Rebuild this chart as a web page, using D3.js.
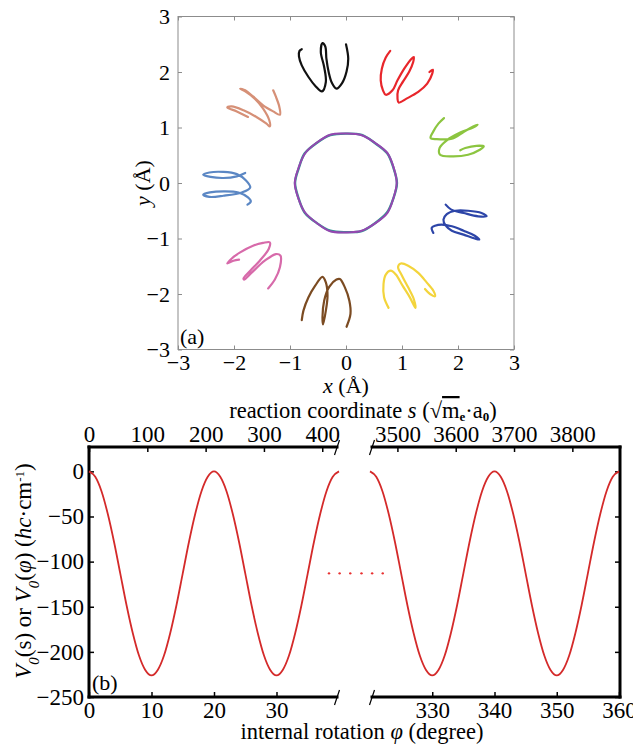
<!DOCTYPE html>
<html>
<head>
<meta charset="utf-8">
<script src="https://cdn.jsdelivr.net/npm/d3@7"></script>
<style>
body { margin: 0; background: #fff; }
text { font-family: "Liberation Serif", "Times New Roman", serif; }
</style>
</head>
<body>
<svg id="chart" width="633" height="745"></svg>
<script>
// ---- panel (a): trajectories, x / y in Angstrom ----
var ticksA = [-3, -2, -1, 0, 1, 2, 3];

var ringAngles = [0, 18, 36, 54, 72, 90, 108, 126, 144, 162, 180, 198, 216, 234, 252, 270, 288, 306, 324, 342];
var ringTeal   = [0.91, 0.89, 0.91, 0.885, 0.91, 0.89, 0.905, 0.89, 0.91, 0.885, 0.91, 0.89, 0.91, 0.89, 0.905, 0.885, 0.91, 0.89, 0.905, 0.89];
var ringPurple = [0.905, 0.895, 0.915, 0.89, 0.905, 0.89, 0.915, 0.895, 0.905, 0.89, 0.915, 0.895, 0.905, 0.89, 0.915, 0.89, 0.905, 0.895, 0.915, 0.89];

var black = [[-0.79,2.41],[-0.83,2.38],[-0.84,2.28],[-0.79,2.12],[-0.67,1.91],[-0.54,1.74],[-0.43,1.65],[-0.36,1.82],[-0.39,2.09],[-0.45,2.36],[-0.42,2.52],[-0.37,2.46],[-0.35,2.24],[-0.31,2.00],[-0.25,1.80],[-0.17,1.70],[-0.07,1.80],[0.01,2.01],[0.04,2.24],[0.00,2.50]];
var red = [[0.79,2.38],[0.71,2.26],[0.64,2.06],[0.62,1.85],[0.66,1.67],[0.71,1.59],[0.83,1.67],[0.92,1.85],[1.04,2.06],[1.17,2.24],[1.21,2.27],[1.20,2.18],[1.13,2.01],[1.02,1.83],[0.93,1.67],[0.92,1.52],[0.94,1.45],[1.08,1.52],[1.29,1.64],[1.45,1.79],[1.54,1.97],[1.55,2.04],[1.49,2.00]];
var green = [[1.75,1.17],[1.65,1.07],[1.56,0.93],[1.51,0.81],[1.62,0.79],[1.89,0.80],[2.10,0.92],[2.27,1.02],[2.35,1.05],[2.27,1.00],[2.04,0.91],[1.80,0.77],[1.67,0.63],[1.68,0.51],[1.89,0.48],[2.18,0.51],[2.39,0.60],[2.46,0.66],[2.33,0.67],[2.13,0.63],[2.04,0.59]];
var darkBlue = [[1.78,-0.39],[1.88,-0.48],[2.10,-0.54],[2.36,-0.60],[2.51,-0.60],[2.42,-0.54],[2.18,-0.50],[1.95,-0.50],[1.80,-0.56],[1.74,-0.66],[1.78,-0.77],[1.89,-0.86],[2.10,-0.93],[2.30,-1.00],[2.38,-1.02],[2.30,-0.95],[2.10,-0.86],[1.89,-0.78],[1.71,-0.75],[1.59,-0.77],[1.53,-0.81],[1.56,-0.90]];
var yellow = [[0.76,-2.25],[0.68,-2.06],[0.67,-1.82],[0.71,-1.65],[0.80,-1.58],[0.89,-1.65],[1.01,-1.85],[1.14,-2.06],[1.24,-2.25],[1.21,-2.09],[1.11,-1.88],[1.00,-1.67],[0.93,-1.51],[0.98,-1.45],[1.11,-1.49],[1.29,-1.62],[1.44,-1.79],[1.56,-1.94],[1.59,-2.04],[1.50,-2.00],[1.41,-1.91]];
var brown = [[-0.79,-2.47],[-0.76,-2.30],[-0.67,-2.06],[-0.55,-1.85],[-0.42,-1.69],[-0.36,-1.79],[-0.33,-2.03],[-0.36,-2.30],[-0.41,-2.55],[-0.42,-2.42],[-0.39,-2.12],[-0.30,-1.87],[-0.17,-1.74],[-0.11,-1.73],[-0.02,-1.88],[0.06,-2.12],[0.08,-2.36],[0.01,-2.59]];
var pink = [[-1.91,-1.38],[-2.01,-1.40],[-2.12,-1.45],[-2.04,-1.36],[-1.89,-1.25],[-1.66,-1.13],[-1.48,-1.08],[-1.36,-1.07],[-1.38,-1.19],[-1.54,-1.40],[-1.71,-1.58],[-1.83,-1.72],[-1.82,-1.74],[-1.68,-1.61],[-1.45,-1.40],[-1.25,-1.28],[-1.17,-1.31],[-1.18,-1.52],[-1.27,-1.74],[-1.39,-1.90]];
var lightBlue = [[-1.80,0.18],[-1.95,0.12],[-2.19,0.09],[-2.42,0.11],[-2.55,0.15],[-2.44,0.19],[-2.19,0.20],[-1.95,0.16],[-1.79,0.05],[-1.71,-0.08],[-1.86,-0.17],[-2.19,-0.23],[-2.44,-0.25],[-2.55,-0.21],[-2.43,-0.17],[-2.19,-0.15],[-1.92,-0.17],[-1.75,-0.26],[-1.70,-0.33],[-1.76,-0.39]];
var salmon = [[-1.75,1.19],[-1.95,1.29],[-2.12,1.36],[-2.04,1.38],[-1.83,1.31],[-1.60,1.19],[-1.42,1.07],[-1.36,1.02],[-1.37,1.13],[-1.48,1.34],[-1.63,1.52],[-1.80,1.65],[-1.89,1.70],[-1.80,1.67],[-1.66,1.56],[-1.48,1.40],[-1.30,1.29],[-1.18,1.23],[-1.19,1.37],[-1.25,1.55],[-1.30,1.67]];

// ---- panel (b): potential along the path ----
var phiLeft  = [0,1,2,3,4,5,6,7,8,9,10,11,12,13,14,15,16,17,18,19,20,21,22,23,24,25,26,27,28,29,30,31,32,33,34,35,36,37,38,39,40];
var vLeft    = [0,-6,-22,-47,-78,-113,-148,-179,-204,-220,-226,-220,-204,-179,-148,-113,-78,-47,-22,-6,0,-6,-22,-47,-78,-113,-148,-179,-204,-220,-226,-220,-204,-179,-148,-113,-78,-47,-22,-6,0];
var phiRight = [320,321,322,323,324,325,326,327,328,329,330,331,332,333,334,335,336,337,338,339,340,341,342,343,344,345,346,347,348,349,350,351,352,353,354,355,356,357,358,359,360];
var vRight   = [0,-6,-22,-47,-78,-113,-148,-179,-204,-220,-226,-220,-204,-179,-148,-113,-78,-47,-22,-6,0,-6,-22,-47,-78,-113,-148,-179,-204,-220,-226,-220,-204,-179,-148,-113,-78,-47,-22,-6,0];
var dotPhi = [38.4, 40.1, 41.8, 43.6, 45.3, 47.0];
var dotV = -113;

var phiTicksLeft = [0, 10, 20, 30];
var phiTicksRight = [330, 340, 350, 360];
var sTicksLeft = [0, 100, 200, 300, 400];
var sTicksRight = [3500, 3600, 3700, 3800];
var vTicks = [0, -50, -100, -150, -200, -250];

var svg = d3.select("#chart");
var SERIF = '"Liberation Serif", "Times New Roman", serif';
var fmt = d3.format("d");

function styleAxis(g, col, sw, fs) {
  g.select(".domain").remove();
  g.attr("font-family", null).attr("font-size", null);
  g.selectAll(".tick line").attr("stroke", col).attr("stroke-width", sw);
  g.selectAll(".tick text").attr("fill", "#000")
    .style("font-family", SERIF).style("font-size", fs + "px");
}

// ================= panel (a) =================
var xA = d3.scaleLinear().domain([-3, 3]).range([178, 514]);
var yA = d3.scaleLinear().domain([-3, 3]).range([349.5, 16.5]);

svg.append("rect")
  .attr("x", xA(-3)).attr("y", yA(3))
  .attr("width", xA(3) - xA(-3)).attr("height", yA(-3) - yA(3))
  .attr("fill", "none").attr("stroke", "#8c8c8c").attr("stroke-width", 1);

svg.append("g").attr("transform", "translate(0," + yA(-3) + ")")
  .call(d3.axisBottom(xA).tickValues(ticksA).tickFormat(fmt).tickSize(-4).tickPadding(5))
  .call(styleAxis, "#8c8c8c", 1, 22);
svg.append("g").attr("transform", "translate(0," + yA(3) + ")")
  .call(d3.axisTop(xA).tickValues(ticksA).tickSize(-4).tickFormat(""))
  .call(styleAxis, "#8c8c8c", 1, 22);
svg.append("g").attr("transform", "translate(" + xA(-3) + ",0)")
  .call(d3.axisLeft(yA).tickValues(ticksA).tickFormat(fmt).tickSize(-4).tickPadding(8))
  .call(styleAxis, "#8c8c8c", 1, 22);
svg.append("g").attr("transform", "translate(" + xA(3) + ",0)")
  .call(d3.axisRight(yA).tickValues(ticksA).tickSize(-4).tickFormat(""))
  .call(styleAxis, "#8c8c8c", 1, 22);

var ringLine = d3.line()
  .x(function (d) { return xA(d[0]); })
  .y(function (d) { return yA(d[1]); })
  .curve(d3.curveCardinalClosed);

function ringPts(radii) {
  return ringAngles.map(function (a, i) {
    var t = a * Math.PI / 180;
    return [radii[i] * Math.cos(t), radii[i] * Math.sin(t)];
  });
}

svg.append("path").attr("d", ringLine(ringPts(ringTeal)))
  .attr("fill", "none").attr("stroke", "#2f9592").attr("stroke-width", 2.4);
svg.append("path").attr("d", ringLine(ringPts(ringPurple)))
  .attr("fill", "none").attr("stroke", "#9547b0").attr("stroke-width", 2);

var trajLine = d3.line()
  .x(function (d) { return xA(d[0]); })
  .y(function (d) { return yA(d[1]); })
  .curve(d3.curveCatmullRom.alpha(0.5));

var trajs = [
  { pts: black, col: "#111111" },
  { pts: red, col: "#e8262b" },
  { pts: green, col: "#8cc540" },
  { pts: darkBlue, col: "#2d45a8" },
  { pts: yellow, col: "#f3d43c" },
  { pts: brown, col: "#7b4b22" },
  { pts: pink, col: "#d76aaa" },
  { pts: lightBlue, col: "#5b87c4" },
  { pts: salmon, col: "#d69077" }
];
svg.append("g").selectAll("path")
  .data(trajs)
  .enter()
  .append("path")
  .attr("d", function (d) { return trajLine(d.pts); })
  .attr("fill", "none")
  .attr("stroke", function (d) { return d.col; })
  .attr("stroke-width", 2.2)
  .attr("stroke-linecap", "round")
  .attr("stroke-linejoin", "round");

svg.append("text").attr("x", xA(-3) + 2).attr("y", 344).style("font-size", "22px").text("(a)");

var xl = svg.append("text").attr("x", xA(0)).attr("y", 393)
  .attr("text-anchor", "middle").style("font-size", "22px");
xl.append("tspan").attr("font-style", "italic").text("x");
xl.append("tspan").text(" (Å)");

var yl = svg.append("text").attr("transform", "translate(150," + yA(0) + ") rotate(-90)")
  .attr("text-anchor", "middle").style("font-size", "22px");
yl.append("tspan").attr("font-style", "italic").text("y");
yl.append("tspan").text(" (Å)");

// ================= panel (b) =================
var xL = d3.scaleLinear().domain([0, 40]).range([89, 339]);
var xR = d3.scaleLinear().domain([320, 360]).range([370, 619]);
var sL = d3.scaleLinear().domain([0, 427]).range([89, 338]);
var sR = d3.scaleLinear().domain([3453, 3880]).range([370, 619]);
var yB = d3.scaleLinear().domain([-250, 27]).range([697, 447]);

var top0 = yB(27), bot0 = yB(-250);
var leftEnd = 337, rightStart = 372, plotL = 89, plotR = 620;
var FB = 23;

svg.append("g").attr("transform", "translate(0," + bot0 + ")")
  .call(d3.axisBottom(xL).tickValues(phiTicksLeft).tickFormat(fmt).tickSize(-5).tickPadding(5))
  .call(styleAxis, "#000", 1.5, FB);
svg.append("g").attr("transform", "translate(0," + bot0 + ")")
  .call(d3.axisBottom(xR).tickValues(phiTicksRight).tickFormat(fmt).tickSize(-5).tickPadding(5))
  .call(styleAxis, "#000", 1.5, FB);
svg.append("g").attr("transform", "translate(0," + top0 + ")")
  .call(d3.axisTop(sL).tickValues(sTicksLeft).tickFormat(fmt).tickSize(-5).tickPadding(5))
  .call(styleAxis, "#000", 1.5, FB);
svg.append("g").attr("transform", "translate(0," + top0 + ")")
  .call(d3.axisTop(sR).tickValues(sTicksRight).tickFormat(fmt).tickSize(-5).tickPadding(5))
  .call(styleAxis, "#000", 1.5, FB);
svg.append("g").attr("transform", "translate(" + plotL + ",0)")
  .call(d3.axisLeft(yB).tickValues(vTicks).tickFormat(fmt).tickSize(-5).tickPadding(5))
  .call(styleAxis, "#000", 1.5, FB);
svg.append("g").attr("transform", "translate(" + plotR + ",0)")
  .call(d3.axisRight(yB).tickValues(vTicks).tickSize(-5).tickFormat(""))
  .call(styleAxis, "#000", 1.5, FB);

// thick frame with the axis break
var frame = [
  [plotL, top0, leftEnd, top0], [rightStart, top0, plotR, top0],
  [plotL, bot0, leftEnd, bot0], [rightStart, bot0, plotR, bot0],
  [plotL, top0, plotL, bot0], [plotR, top0, plotR, bot0]
];
svg.append("g").selectAll("line").data(frame).enter().append("line")
  .attr("x1", function (d) { return d[0]; }).attr("y1", function (d) { return d[1]; })
  .attr("x2", function (d) { return d[2]; }).attr("y2", function (d) { return d[3]; })
  .attr("stroke", "#000").attr("stroke-width", 3).attr("stroke-linecap", "square");

var slashes = [[leftEnd, top0], [rightStart, top0], [leftEnd, bot0], [rightStart, bot0]];
svg.append("g").selectAll("line").data(slashes).enter().append("line")
  .attr("x1", function (d) { return d[0] - 2.5; }).attr("y1", function (d) { return d[1] + 8; })
  .attr("x2", function (d) { return d[0] + 2.5; }).attr("y2", function (d) { return d[1] - 7; })
  .attr("stroke", "#000").attr("stroke-width", 1.2);

var vLineL = d3.line().x(function (d, i) { return xL(phiLeft[i]); }).y(function (d) { return yB(d); }).curve(d3.curveMonotoneX);
var vLineR = d3.line().x(function (d, i) { return xR(phiRight[i]); }).y(function (d) { return yB(d); }).curve(d3.curveMonotoneX);

svg.append("path").attr("d", vLineL(vLeft))
  .attr("fill", "none").attr("stroke", "#d42a2a").attr("stroke-width", 1.8);
svg.append("path").attr("d", vLineR(vRight))
  .attr("fill", "none").attr("stroke", "#d42a2a").attr("stroke-width", 1.8);

svg.append("g").selectAll("circle").data(dotPhi).enter().append("circle")
  .attr("cx", function (d) { return xL(d); })
  .attr("cy", yB(dotV))
  .attr("r", 1.2)
  .attr("fill", "#e83030");

svg.append("text").attr("x", plotL + 3).attr("y", 690).style("font-size", "22px").text("(b)");

// top title
var tt = svg.append("text").attr("x", 363).attr("y", 418)
  .attr("text-anchor", "middle").style("font-size", "22.5px");
tt.append("tspan").text("reaction coordinate ");
tt.append("tspan").attr("font-style", "italic").text("s");
tt.append("tspan").text(" (√");
tt.append("tspan").attr("text-decoration", "overline").text("m");
tt.append("tspan").attr("baseline-shift", "-3").attr("font-weight", "bold").style("font-size", "13px").text("e");
tt.append("tspan").text("·a");
tt.append("tspan").attr("baseline-shift", "-3").attr("font-weight", "bold").style("font-size", "13px").text("0");
tt.append("tspan").text(")");

// bottom title
var bt = svg.append("text").attr("x", 362).attr("y", 739)
  .attr("text-anchor", "middle").style("font-size", "22.5px");
bt.append("tspan").text("internal rotation ");
bt.append("tspan").attr("font-style", "italic").text("φ");
bt.append("tspan").text(" (degree)");

// y title
var vt = svg.append("text").attr("transform", "translate(31,571) rotate(-90)")
  .attr("text-anchor", "middle").style("font-size", "23px");
vt.append("tspan").attr("font-style", "italic").text("V");
vt.append("tspan").attr("baseline-shift", "sub").attr("font-style", "italic").style("font-size", "15px").text("0");
vt.append("tspan").text("(s) or ");
vt.append("tspan").attr("font-style", "italic").text("V");
vt.append("tspan").attr("baseline-shift", "sub").attr("font-style", "italic").style("font-size", "15px").text("0");
vt.append("tspan").text("(");
vt.append("tspan").attr("font-style", "italic").text("φ");
vt.append("tspan").text(") (");
vt.append("tspan").attr("font-style", "italic").text("hc");
vt.append("tspan").text("·cm");
vt.append("tspan").attr("baseline-shift", "super").style("font-size", "13px").text("-1");
vt.append("tspan").text(")");
</script>
</body>
</html>
